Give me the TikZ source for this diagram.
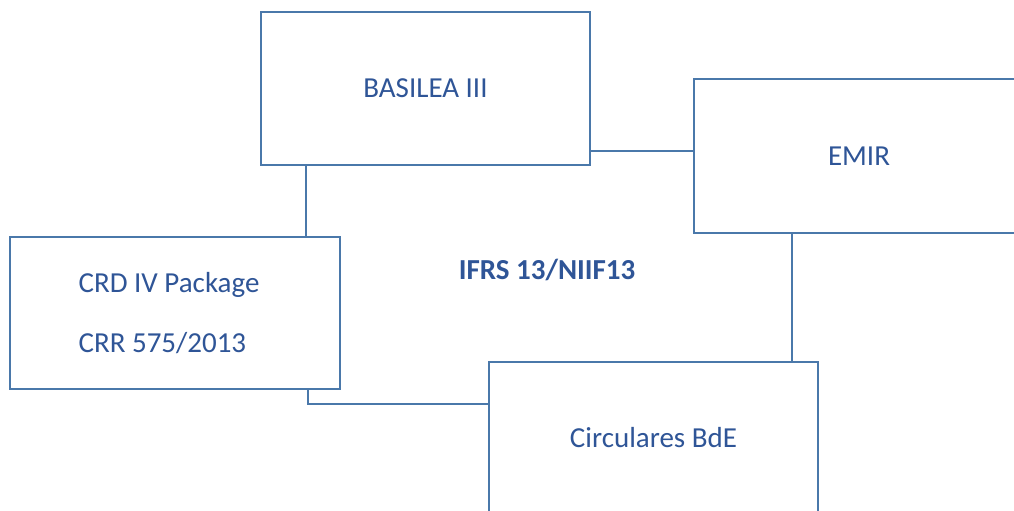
\documentclass[tikz,border=0pt]{standalone}
\usepackage{fontspec}
\setmainfont{Carlito}
\usepackage{xcolor}
\usetikzlibrary{positioning}
\definecolor{lineblue}{HTML}{4A78AA}
\definecolor{textblue}{HTML}{2F5597}

\begin{document}
\begin{tikzpicture}[x=1pt, y=-1pt, every node/.style={font=\fontsize{29}{35}\selectfont, text=textblue},
    box/.style={draw=lineblue, line width=2pt, fill=white, minimum width=329pt,
                minimum height=153pt, align=center},
    link/.style={draw=lineblue, line width=2pt}]
  \useasboundingbox (0,0) rectangle (1014,511);
  \node[box] (bas)  at (425.5,88.5) {BASILEA III};
  \node[box, minimum width=330pt, minimum height=154pt] (emir) at (859,156) {EMIR};
  \node[box, minimum width=330pt, minimum height=152pt, align=left] (crd) at (175,313)
       {CRD IV Package\hspace*{12pt}\\[25pt]CRR 575/2013};
  \node[box, minimum height=152pt] (circ) at (653.5,438) {Circulares BdE};
  \node[font=\bfseries\fontsize{29}{35}\selectfont] (ifrs) at (547,270) {IFRS 13/NIIF13};
  \draw[link] ([xshift=46]bas.south west) -- ([xshift=46]bas.south west |- crd.north);
  \draw[link] ([yshift=15]bas.south east) -- ([yshift=15]bas.south east -| emir.west);
  \draw[link] ([xshift=99]emir.south west) -- ([xshift=99]emir.south west |- circ.north);
  \draw[link] ([xshift=-33]crd.south east) |- ([yshift=-14]crd.south east -| circ.west);
\end{tikzpicture}
\end{document}
